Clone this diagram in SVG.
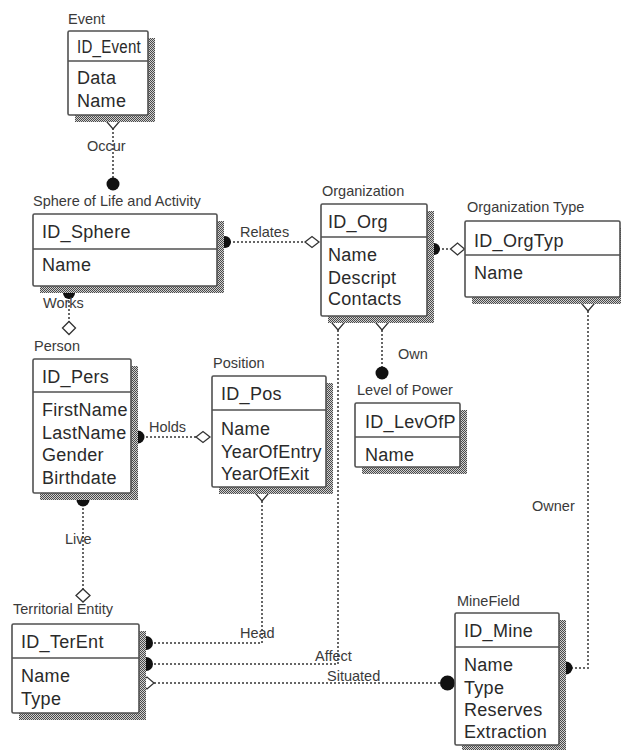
<svg xmlns="http://www.w3.org/2000/svg" width="621" height="750" viewBox="0 0 621 750">
<defs>
<pattern id="hatch" width="2" height="2" patternUnits="userSpaceOnUse">
<rect width="2" height="2" fill="#d0d0d0"/>
<rect width="1" height="1" fill="#4a4a4a"/>
<rect x="1" y="1" width="1" height="1" fill="#4a4a4a"/>
</pattern>
</defs>
<style>
.title{font-family:"Liberation Sans",Arial,sans-serif;font-size:14.5px;fill:#3a3a3a}
.lbl{font-family:"Liberation Sans",Arial,sans-serif;font-size:14.5px;fill:#3a3a3a}
.field{font-family:"Liberation Sans",Arial,sans-serif;font-size:18px;letter-spacing:0.3px;fill:#2a2a2a}
.box{fill:#fff;stroke:#505050;stroke-width:1.6}
.shadow{fill:url(#hatch)}
.div{stroke:#505050;stroke-width:1.6}
.conn{fill:none;stroke:#666;stroke-width:2;stroke-dasharray:2 2}
.dot{fill:#111}
.dia{fill:#fff;stroke:#333;stroke-width:1.3}
</style>
<rect width="621" height="750" fill="#fff"/>
<g id="connectors">
<!-- Occur -->
<line class="conn" x1="113" y1="128" x2="113" y2="178"/>
<path class="dia" d="M107,122 L113,115 L119,122 L113,129 Z"/>
<circle class="dot" cx="113" cy="184" r="6.5"/>
<text class="lbl" x="87" y="150.5">Occur</text>
<!-- Relates -->
<line class="conn" x1="225" y1="242" x2="305" y2="242"/>
<circle class="dot" cx="225" cy="242" r="6"/>
<path class="dia" d="M305,242 L312,236.5 L319,242 L312,247.5 Z"/>
<text class="lbl" x="240" y="237">Relates</text>
<!-- Org - OrgType -->
<line class="conn" x1="434" y1="249" x2="450" y2="249"/>
<circle class="dot" cx="434" cy="249" r="6"/>
<path class="dia" d="M450.5,249 L457.5,243 L464.5,249 L457.5,255 Z"/>
<!-- Works -->
<line class="conn" x1="69" y1="293" x2="69" y2="322"/>
<circle class="dot" cx="69" cy="293" r="6"/>
<path class="dia" d="M62.5,328 L69,321.5 L75.5,328 L69,334.5 Z"/>
<text class="lbl" x="43" y="307.5">Works</text>
<!-- Holds -->
<line class="conn" x1="138" y1="437" x2="196" y2="437"/>
<circle class="dot" cx="138" cy="437" r="6.5"/>
<path class="dia" d="M196,437 L203,431.5 L210,437 L203,442.5 Z"/>
<text class="lbl" x="149" y="432">Holds</text>
<!-- Own -->
<line class="conn" x1="382" y1="330" x2="382" y2="367"/>
<path class="dia" d="M376,323 L382,316 L388,323 L382,330 Z"/>
<circle class="dot" cx="382" cy="373" r="6.5"/>
<text class="lbl" x="398" y="359">Own</text>
<!-- Affect -->
<polyline class="conn" points="338,330 338,664 146,664"/>
<path class="dia" d="M332,323 L338,316 L344,323 L338,330 Z"/>
<circle class="dot" cx="146" cy="664" r="7"/>
<text class="lbl" x="315" y="660.5">Affect</text>
<!-- Head -->
<polyline class="conn" points="262,501 262,643 146,643"/>
<path class="dia" d="M256,494 L262,487 L268,494 L262,501 Z"/>
<circle class="dot" cx="146" cy="643" r="7"/>
<text class="lbl" x="240" y="638">Head</text>
<!-- Live -->
<line class="conn" x1="83" y1="500" x2="83" y2="589"/>
<circle class="dot" cx="83" cy="500" r="6.5"/>
<path class="dia" d="M76,595.5 L83,589 L90,595.5 L83,602 Z"/>
<text class="lbl" x="65" y="544">Live</text>
<!-- Situated -->
<line class="conn" x1="154" y1="683" x2="440" y2="683"/>
<path class="dia" d="M140,683 L147,677 L154,683 L147,689 Z"/>
<circle class="dot" cx="447.5" cy="683" r="7.5"/>
<text class="lbl" x="327" y="680.5">Situated</text>
<!-- Owner -->
<polyline class="conn" points="588,311 588,668 566,668"/>
<path class="dia" d="M582,304 L588,297 L594,304 L588,311 Z"/>
<circle class="dot" cx="566" cy="668" r="6.5"/>
<text class="lbl" x="532" y="510.5">Owner</text>
</g>
<g id="event">
<text class="title" x="68" y="24">Event</text>
<rect class="shadow" x="75" y="38" width="80" height="84"/>
<rect class="box" x="68" y="31" width="80" height="84" rx="1.5"/>
<line class="div" x1="68" y1="61" x2="148" y2="61"/>
<text class="field" x="77" y="53" textLength="64" lengthAdjust="spacingAndGlyphs">ID_Event</text>
<text class="field" x="77" y="84">Data</text>
<text class="field" x="77" y="106.5">Name</text>
</g>
<g id="sphere">
<text class="title" x="33" y="206">Sphere of Life and Activity</text>
<rect class="shadow" x="40" y="221" width="184" height="72"/>
<rect class="box" x="33" y="214" width="184" height="72" rx="1.5"/>
<line class="div" x1="33" y1="249" x2="217" y2="249"/>
<text class="field" x="42" y="238">ID_Sphere</text>
<text class="field" x="42" y="271">Name</text>
</g>
<g id="organization">
<text class="title" x="322" y="196">Organization</text>
<rect class="shadow" x="328" y="211" width="106" height="112"/>
<rect class="box" x="321" y="204" width="106" height="112" rx="1.5"/>
<line class="div" x1="321" y1="237" x2="427" y2="237"/>
<text class="field" x="328" y="228">ID_Org</text>
<text class="field" x="328" y="261">Name</text>
<text class="field" x="328" y="283.5">Descript</text>
<text class="field" x="328" y="305">Contacts</text>
</g>
<g id="orgtype">
<text class="title" x="467" y="212">Organization Type</text>
<rect class="shadow" x="472" y="228" width="156" height="76"/>
<rect class="box" x="465" y="221" width="155" height="76" rx="1.5"/>
<line class="div" x1="465" y1="255" x2="620" y2="255"/>
<text class="field" x="474" y="247">ID_OrgTyp</text>
<text class="field" x="474" y="279">Name</text>
</g>
<g id="person">
<text class="title" x="34" y="350.5">Person</text>
<rect class="shadow" x="40" y="366" width="98" height="134"/>
<rect class="box" x="33" y="359" width="98" height="134" rx="1.5"/>
<line class="div" x1="33" y1="392" x2="131" y2="392"/>
<text class="field" x="42" y="382.5">ID_Pers</text>
<text class="field" x="42" y="415.5">FirstName</text>
<text class="field" x="42" y="438.5">LastName</text>
<text class="field" x="42" y="461">Gender</text>
<text class="field" x="42" y="484">Birthdate</text>
</g>
<g id="position">
<text class="title" x="213" y="368">Position</text>
<rect class="shadow" x="219" y="383" width="114" height="111"/>
<rect class="box" x="212" y="376" width="114" height="111" rx="1.5"/>
<line class="div" x1="212" y1="410" x2="326" y2="410"/>
<text class="field" x="221" y="400">ID_Pos</text>
<text class="field" x="221" y="434.5">Name</text>
<text class="field" x="221" y="457.5">YearOfEntry</text>
<text class="field" x="221" y="480">YearOfExit</text>
</g>
<g id="levelofpower">
<text class="title" x="357" y="395">Level of Power</text>
<rect class="shadow" x="362" y="410" width="105" height="64"/>
<rect class="box" x="355" y="403" width="105" height="64" rx="1.5"/>
<line class="div" x1="355" y1="437" x2="460" y2="437"/>
<text class="field" x="365" y="428">ID_LevOfP</text>
<text class="field" x="365" y="460.5">Name</text>
</g>
<g id="territorial">
<text class="title" x="13" y="614">Territorial Entity</text>
<rect class="shadow" x="19" y="631" width="127" height="89"/>
<rect class="box" x="12" y="624" width="127" height="89" rx="1.5"/>
<line class="div" x1="12" y1="658" x2="139" y2="658"/>
<text class="field" x="21" y="648">ID_TerEnt</text>
<text class="field" x="21" y="682">Name</text>
<text class="field" x="21" y="704.5">Type</text>
</g>
<g id="minefield">
<text class="title" x="457" y="605.5">MineField</text>
<rect class="shadow" x="462" y="620" width="104" height="132"/>
<rect class="box" x="455" y="613" width="104" height="132" rx="1.5"/>
<line class="div" x1="455" y1="647" x2="559" y2="647"/>
<text class="field" x="464" y="637">ID_Mine</text>
<text class="field" x="464" y="671">Name</text>
<text class="field" x="464" y="693.5">Type</text>
<text class="field" x="464" y="715.5">Reserves</text>
<text class="field" x="464" y="738">Extraction</text>
</g>
</svg>
